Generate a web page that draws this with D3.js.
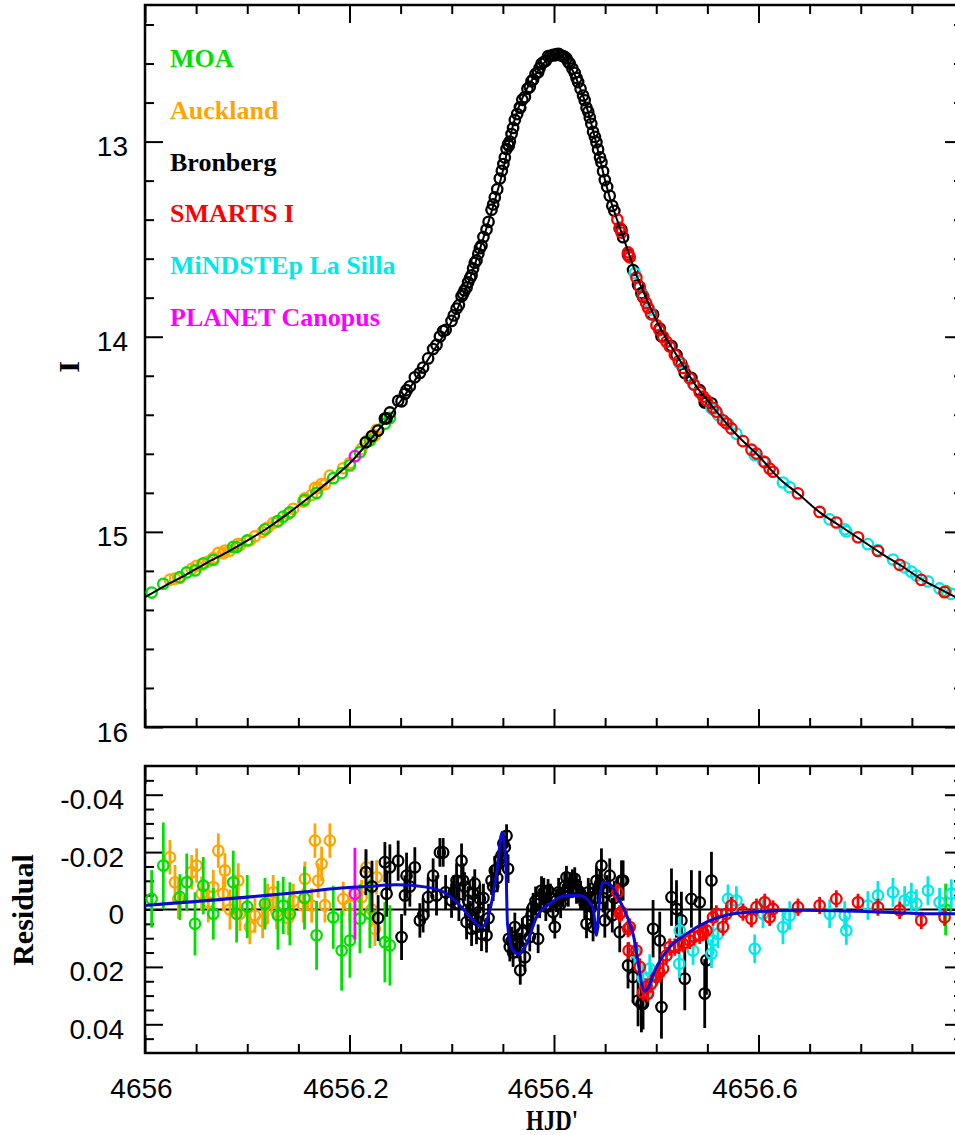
<!DOCTYPE html>
<html>
<head>
<meta charset="utf-8">
<script src="https://cdn.jsdelivr.net/npm/d3@7/dist/d3.min.js"></script>
<style>
  body { margin: 0; background: #fff; }
  .axis .domain { display: none; }
  .axis line { stroke: #000; stroke-width: 2; }
  .axis text { font-family: "Liberation Sans", Arial, sans-serif; font-size: 28px; fill: #000; }
  .label { font-family: "Liberation Serif", "Times New Roman", serif; font-weight: bold; }
</style>
</head>
<body>
<div id="chart"></div>
<script>
// Observations: [HJD', I mag, residual, residual error]
const moa = [
    [4656.0065, 15.311, -0.0037, 0.010], [4656.0179, 15.266, -0.0153, 0.015],
    [4656.0342, 15.232, -0.0043, 0.008], [4656.0408, 15.208, -0.0095, 0.010],
    [4656.0489, 15.198, 0.0050, 0.011], [4656.0570, 15.161, -0.0083, 0.010],
    [4656.0668, 15.143, 0.0015, 0.009], [4656.0863, 15.077, -0.0095, 0.011],
    [4656.0896, 15.078, 0.0015, 0.010], [4656.1000, 15.044, -0.0010, 0.011],
    [4656.1173, 14.987, -0.0020, 0.009], [4656.1300, 14.945, 0.0020, 0.012],
    [4656.1352, 14.922, -0.0014, 0.010], [4656.1417, 14.900, 0.0015, 0.011],
    [4656.1560, 14.837, -0.0040, 0.011], [4656.1678, 14.801, 0.0090, 0.012],
    [4656.1841, 14.725, 0.0027, 0.011], [4656.1923, 14.699, 0.0143, 0.014],
    [4656.2004, 14.659, 0.0108, 0.013], [4656.2102, 14.592, 0.0032, 0.012],
    [4656.2199, 14.532, 0.0015, 0.012], [4656.2346, 14.446, 0.0114, 0.014],
    [4656.2395, 14.416, 0.0125, 0.014], [4656.7830, 15.303, 0.0000, 0.009]
];

const auckland = [
    [4656.0244, 15.245, -0.0182, 0.006], [4656.0293, 15.240, -0.0095, 0.006],
    [4656.0326, 15.236, -0.0037, 0.007], [4656.0457, 15.190, -0.0130, 0.006],
    [4656.0505, 15.174, -0.0153, 0.006], [4656.0554, 15.168, -0.0055, 0.006],
    [4656.0619, 15.152, -0.0025, 0.007], [4656.0668, 15.134, -0.0078, 0.006],
    [4656.0717, 15.108, -0.0205, 0.006], [4656.0765, 15.110, -0.0055, 0.006],
    [4656.0782, 15.096, -0.0136, 0.006], [4656.0831, 15.096, 0.0000, 0.007],
    [4656.0912, 15.061, -0.0101, 0.006], [4656.0929, 15.068, 0.0015, 0.006],
    [4656.1026, 15.043, 0.0061, 0.006], [4656.1075, 15.023, 0.0021, 0.006],
    [4656.1150, 15.000, 0.0040, 0.006], [4656.1200, 14.978, -0.0020, 0.007],
    [4656.1254, 14.954, -0.0060, 0.006], [4656.1287, 14.948, 0.0009, 0.006],
    [4656.1400, 14.908, 0.0030, 0.006], [4656.1450, 14.882, -0.0030, 0.006],
    [4656.1547, 14.845, -0.0014, 0.006], [4656.1564, 14.828, -0.0107, 0.006],
    [4656.1630, 14.811, -0.0014, 0.006], [4656.1662, 14.775, -0.0240, 0.006],
    [4656.1694, 14.775, -0.0101, 0.006], [4656.1727, 14.755, -0.0159, 0.006],
    [4656.1760, 14.756, -0.0015, 0.006], [4656.1808, 14.712, -0.0240, 0.006],
    [4656.1938, 14.674, -0.0037, 0.006], [4656.2004, 14.647, -0.0015, 0.006],
    [4656.2118, 14.575, -0.0043, 0.006], [4656.2167, 14.535, -0.0147, 0.006],
    [4656.2216, 14.520, 0.0000, 0.006], [4656.2248, 14.506, 0.0067, 0.006],
    [4656.2265, 14.477, -0.0112, 0.006]
];

const bronberg = [
    [4656.2160, 14.541, -0.0130, 0.008], [4656.2220, 14.509, -0.0080, 0.009],
    [4656.2280, 14.481, 0.0030, 0.008], [4656.2346, 14.419, -0.0165, 0.007],
    [4656.2363, 14.418, -0.0055, 0.008], [4656.2395, 14.388, -0.0147, 0.008],
    [4656.2476, 14.328, -0.0170, 0.007], [4656.2509, 14.331, 0.0096, 0.008],
    [4656.2542, 14.292, -0.0049, 0.007], [4656.2558, 14.274, -0.0118, 0.008],
    [4656.2590, 14.254, -0.0080, 0.007], [4656.2639, 14.208, -0.0147, 0.007],
    [4656.2688, 14.186, 0.0038, 0.006], [4656.2720, 14.158, 0.0020, 0.006],
    [4656.2769, 14.111, -0.0043, 0.007], [4656.2818, 14.063, -0.0118, 0.006],
    [4656.2851, 14.042, -0.0049, 0.007], [4656.2884, 13.999, -0.0199, 0.005],
    [4656.2916, 13.971, -0.0199, 0.005], [4656.2940, 13.965, -0.0060, 0.006],
    [4656.2998, 13.919, -0.0031, 0.006], [4656.3020, 13.891, -0.0060, 0.006],
    [4656.3047, 13.856, -0.0101, 0.006], [4656.3070, 13.838, -0.0020, 0.006],
    [4656.3096, 13.793, -0.0170, 0.006], [4656.3111, 13.780, -0.0101, 0.006],
    [4656.3125, 13.763, -0.0080, 0.005], [4656.3145, 13.748, 0.0044, 0.006],
    [4656.3160, 13.721, -0.0031, 0.005], [4656.3180, 13.699, 0.0020, 0.005],
    [4656.3194, 13.685, 0.0067, 0.006], [4656.3209, 13.650, -0.0055, 0.006],
    [4656.3225, 13.621, -0.0090, 0.005], [4656.3242, 13.609, 0.0061, 0.006],
    [4656.3260, 13.575, 0.0010, 0.005], [4656.3275, 13.546, -0.0037, 0.005],
    [4656.3291, 13.533, 0.0085, 0.006], [4656.3310, 13.489, -0.0040, 0.005],
    [4656.3340, 13.451, 0.0090, 0.006], [4656.3360, 13.411, 0.0030, 0.005],
    [4656.3389, 13.349, -0.0101, 0.005], [4656.3405, 13.322, -0.0080, 0.005],
    [4656.3421, 13.286, -0.0136, 0.005], [4656.3445, 13.244, -0.0110, 0.005],
    [4656.3470, 13.189, -0.0176, 0.005], [4656.3490, 13.150, -0.0190, 0.005],
    [4656.3505, 13.115, -0.0230, 0.004], [4656.3519, 13.082, -0.0217, 0.004],
    [4656.3536, 13.038, -0.0257, 0.004], [4656.3551, 13.014, -0.0142, 0.005],
    [4656.3558, 13.021, 0.0102, 0.005], [4656.3568, 13.000, 0.0131, 0.005],
    [4656.3585, 12.961, 0.0110, 0.005], [4656.3600, 12.930, 0.0150, 0.005],
    [4656.3617, 12.889, 0.0061, 0.005], [4656.3640, 12.859, 0.0120, 0.005],
    [4656.3666, 12.824, 0.0131, 0.005], [4656.3670, 12.827, 0.0212, 0.005],
    [4656.3690, 12.786, 0.0080, 0.005], [4656.3715, 12.772, 0.0166, 0.005],
    [4656.3740, 12.729, 0.0040, 0.005], [4656.3763, 12.720, 0.0096, 0.005],
    [4656.3780, 12.691, 0.0020, 0.005], [4656.3796, 12.682, -0.0008, 0.005],
    [4656.3820, 12.653, -0.0030, 0.005], [4656.3845, 12.645, 0.0102, 0.005],
    [4656.3860, 12.623, -0.0020, 0.005], [4656.3878, 12.601, -0.0066, 0.005],
    [4656.3900, 12.592, -0.0060, 0.005], [4656.3920, 12.586, -0.0010, 0.005],
    [4656.3942, 12.562, -0.0066, 0.004], [4656.3965, 12.561, -0.0040, 0.005],
    [4656.3991, 12.555, 0.0009, 0.004], [4656.4008, 12.558, 0.0061, 0.004],
    [4656.4024, 12.551, -0.0031, 0.004], [4656.4045, 12.550, -0.0060, 0.005],
    [4656.4065, 12.558, -0.0020, 0.005], [4656.4089, 12.562, -0.0049, 0.004],
    [4656.4105, 12.566, -0.0080, 0.005], [4656.4122, 12.574, -0.0112, 0.004],
    [4656.4140, 12.592, -0.0060, 0.005], [4656.4154, 12.600, -0.0089, 0.004],
    [4656.4180, 12.626, -0.0090, 0.005], [4656.4203, 12.648, -0.0107, 0.004],
    [4656.4220, 12.674, -0.0070, 0.005], [4656.4236, 12.695, -0.0066, 0.004],
    [4656.4260, 12.729, -0.0050, 0.005], [4656.4284, 12.764, -0.0037, 0.004],
    [4656.4300, 12.788, -0.0020, 0.005], [4656.4318, 12.827, 0.0050, 0.005],
    [4656.4335, 12.847, -0.0060, 0.005], [4656.4350, 12.876, -0.0043, 0.005],
    [4656.4365, 12.909, -0.0010, 0.005], [4656.4382, 12.950, 0.0061, 0.005],
    [4656.4400, 12.976, -0.0040, 0.005], [4656.4415, 13.003, -0.0100, 0.005],
    [4656.4431, 13.041, -0.0072, 0.005], [4656.4450, 13.081, -0.0090, 0.005],
    [4656.4464, 13.106, -0.0153, 0.006], [4656.4480, 13.152, -0.0040, 0.005],
    [4656.4497, 13.197, 0.0038, 0.006], [4656.4520, 13.232, -0.0060, 0.006],
    [4656.4545, 13.278, -0.0118, 0.006], [4656.4570, 13.329, 0.0020, 0.006],
    [4656.4590, 13.355, -0.0040, 0.006], [4656.4643, 13.445, 0.0079, 0.007],
    [4656.4660, 13.452, -0.0101, 0.007], [4656.4676, 13.490, -0.0101, 0.007],
    [4656.4724, 13.581, 0.0195, 0.008], [4656.4773, 13.658, 0.0235, 0.009],
    [4656.4822, 13.735, 0.0317, 0.009], [4656.4855, 13.777, 0.0328, 0.010],
    [4656.4871, 13.797, 0.0328, 0.009], [4656.4969, 13.886, 0.0067, 0.010],
    [4656.5034, 13.958, 0.0108, 0.010], [4656.5051, 13.997, 0.0340, 0.011],
    [4656.5149, 14.048, -0.0043, 0.010], [4656.5198, 14.093, -0.0002, 0.010],
    [4656.5246, 14.138, 0.0038, 0.010], [4656.5279, 14.186, 0.0241, 0.011],
    [4656.5344, 14.211, -0.0037, 0.010], [4656.5425, 14.274, -0.0025, 0.011],
    [4656.5474, 14.337, 0.0293, 0.012], [4656.5491, 14.337, 0.0177, 0.012],
    [4656.5540, 14.341, -0.0101, 0.010]
];

const smarts = [
    [4656.4620, 13.399, -0.0060, 0.003], [4656.4643, 13.442, 0.0015, 0.003],
    [4656.4660, 13.466, 0.0009, 0.003], [4656.4724, 13.568, 0.0067, 0.003],
    [4656.4730, 13.584, 0.0143, 0.003], [4656.4741, 13.593, 0.0061, 0.003],
    [4656.4806, 13.697, 0.0143, 0.003], [4656.4839, 13.744, 0.0200, 0.003],
    [4656.4871, 13.793, 0.0288, 0.003], [4656.4900, 13.827, 0.0270, 0.003],
    [4656.4920, 13.852, 0.0293, 0.003], [4656.4950, 13.884, 0.0260, 0.003],
    [4656.5002, 13.941, 0.0235, 0.003], [4656.5030, 13.966, 0.0220, 0.003],
    [4656.5067, 14.000, 0.0206, 0.003], [4656.5100, 14.026, 0.0160, 0.003],
    [4656.5132, 14.050, 0.0131, 0.003], [4656.5181, 14.092, 0.0131, 0.003],
    [4656.5220, 14.125, 0.0125, 0.003], [4656.5262, 14.160, 0.0120, 0.003],
    [4656.5327, 14.213, 0.0108, 0.003], [4656.5370, 14.246, 0.0095, 0.003],
    [4656.5425, 14.285, 0.0090, 0.003], [4656.5460, 14.307, 0.0080, 0.003],
    [4656.5491, 14.326, 0.0073, 0.003], [4656.5555, 14.364, 0.0027, 0.003],
    [4656.5588, 14.384, 0.0015, 0.003], [4656.5653, 14.428, 0.0061, 0.003],
    [4656.5686, 14.444, 0.0015, 0.003], [4656.5735, 14.470, -0.0014, 0.003],
    [4656.5848, 14.535, 0.0009, 0.003], [4656.5931, 14.579, 0.0032, 0.003],
    [4656.5980, 14.599, -0.0008, 0.003], [4656.6061, 14.643, -0.0025, 0.003],
    [4656.6109, 14.676, 0.0027, 0.003], [4656.6142, 14.692, -0.0002, 0.003],
    [4656.6386, 14.803, -0.0008, 0.003], [4656.6598, 14.898, -0.0014, 0.003],
    [4656.6761, 14.952, -0.0037, 0.003], [4656.6973, 15.028, -0.0025, 0.003],
    [4656.7168, 15.098, -0.0008, 0.003], [4656.7380, 15.169, 0.0003, 0.003],
    [4656.7592, 15.246, 0.0038, 0.003], [4656.7820, 15.309, 0.0027, 0.003]
];

const mindstep = [
    [4656.4790, 13.675, 0.0150, 0.005], [4656.4870, 13.787, 0.0240, 0.005],
    [4656.4936, 13.862, 0.0206, 0.005], [4656.4953, 13.886, 0.0253, 0.006],
    [4656.5225, 14.135, 0.0189, 0.005], [4656.5230, 14.128, 0.0073, 0.005],
    [4656.5360, 14.242, 0.0143, 0.005], [4656.5540, 14.366, 0.0154, 0.005],
    [4656.5555, 14.372, 0.0108, 0.005], [4656.5604, 14.401, 0.0085, 0.005],
    [4656.5702, 14.447, -0.0037, 0.005], [4656.5784, 14.497, -0.0031, 0.005],
    [4656.5963, 14.606, 0.0137, 0.005], [4656.6044, 14.637, 0.0015, 0.005],
    [4656.6239, 14.747, 0.0061, 0.006], [4656.6305, 14.771, 0.0021, 0.005],
    [4656.6696, 14.936, 0.0015, 0.005], [4656.6843, 14.987, 0.0021, 0.005],
    [4656.6859, 14.998, 0.0073, 0.005], [4656.7070, 15.063, -0.0014, 0.005],
    [4656.7168, 15.094, -0.0049, 0.005], [4656.7315, 15.142, -0.0060, 0.005],
    [4656.7429, 15.182, -0.0031, 0.005], [4656.7495, 15.204, -0.0043, 0.005],
    [4656.7544, 15.224, -0.0020, 0.005], [4656.7657, 15.254, -0.0066, 0.005],
    [4656.7771, 15.290, -0.0025, 0.005], [4656.7886, 15.318, -0.0055, 0.005]
];

const canopus = [
    [4656.2053, 14.612, -0.0055, 0.016]
];

// Model light curve [HJD', I mag]
const lcModel = [
    [4656.00, 15.335], [4656.02, 15.275], [4656.04, 15.220], [4656.06, 15.160],
    [4656.08, 15.105], [4656.10, 15.045], [4656.12, 14.980], [4656.14, 14.905],
    [4656.16, 14.825], [4656.18, 14.740], [4656.20, 14.650], [4656.22, 14.530],
    [4656.24, 14.400], [4656.26, 14.255], [4656.28, 14.090], [4656.30, 13.920],
    [4656.31, 13.805], [4656.32, 13.670], [4656.33, 13.510], [4656.34, 13.340],
    [4656.35, 13.150], [4656.355, 13.030], [4656.36, 12.915], [4656.365, 12.830],
    [4656.37, 12.765], [4656.375, 12.715], [4656.38, 12.672], [4656.385, 12.632],
    [4656.39, 12.598], [4656.395, 12.570], [4656.40, 12.552], [4656.405, 12.556],
    [4656.41, 12.570], [4656.415, 12.605], [4656.42, 12.655], [4656.425, 12.720],
    [4656.43, 12.790], [4656.435, 12.880], [4656.44, 12.980], [4656.445, 13.090],
    [4656.45, 13.200], [4656.455, 13.295], [4656.46, 13.375], [4656.47, 13.525],
    [4656.48, 13.675], [4656.49, 13.800], [4656.50, 13.915], [4656.51, 14.010],
    [4656.52, 14.095], [4656.53, 14.180], [4656.54, 14.260], [4656.55, 14.325],
    [4656.56, 14.390], [4656.58, 14.510], [4656.60, 14.610], [4656.62, 14.725],
    [4656.64, 14.810], [4656.66, 14.900], [4656.68, 14.970], [4656.70, 15.040],
    [4656.72, 15.110], [4656.74, 15.175], [4656.76, 15.245], [4656.78, 15.300],
    [4656.80, 15.355]
];

// Planetary model minus single-lens model [HJD', residual]
const resModel = [
    [4656.0000, -0.0014], [4656.1515, -0.0060], [4656.1841, -0.0072], [4656.2167, -0.0080],
    [4656.2460, -0.0086], [4656.2754, -0.0078], [4656.2949, -0.0055], [4656.3111, -0.0002],
    [4656.3209, 0.0038], [4656.3291, 0.0062], [4656.3372, 0.0003], [4656.3438, -0.0124],
    [4656.3493, -0.0269], [4656.3530, -0.0150], [4656.3545, 0.0050], [4656.3600, 0.0143],
    [4656.3649, 0.0154], [4656.3731, 0.0120], [4656.3829, 0.0027], [4656.3959, -0.0020],
    [4656.4122, -0.0049], [4656.4252, -0.0049], [4656.4382, -0.0008], [4656.4415, 0.0090],
    [4656.4448, -0.0043], [4656.4480, -0.0095], [4656.4545, -0.0089], [4656.4643, -0.0031],
    [4656.4773, 0.0085], [4656.4888, 0.0285], [4656.5002, 0.0200], [4656.5132, 0.0131],
    [4656.5295, 0.0085], [4656.5491, 0.0044], [4656.5751, 0.0015], [4656.6012, 0.0007],
    [4656.6403, 0.0003], [4656.7055, 0.0007], [4656.7705, 0.0015], [4656.8000, 0.0015]
];

const sites = ["MOA", "Auckland", "Bronberg", "SMARTS I", "MiNDSTEp La Silla", "PLANET Canopus"];
const siteColors = ["#00e000", "#ffa500", "#000000", "#ff0000", "#00e8e8", "#ff00ff"];
const siteData = [moa, auckland, bronberg, smarts, mindstep, canopus];
const drawOrder = [1, 0, 2, 5, 4, 3];

const magMajor = [13, 14, 15, 16];
const magMinor = [12.4, 12.6, 12.8, 13.2, 13.4, 13.6, 13.8, 14.2, 14.4, 14.6, 14.8,
                  15.2, 15.4, 15.6, 15.8];
const resMajor = [-0.04, -0.02, 0, 0.02, 0.04];
const resMinor = [-0.045, -0.035, -0.03, -0.025, -0.015, -0.01, -0.005,
                  0.005, 0.01, 0.015, 0.025, 0.03, 0.035, 0.045];
const timeMajor = [4656, 4656.2, 4656.4, 4656.6, 4656.8];
const timeMinor = [4656.05, 4656.1, 4656.15, 4656.25, 4656.3, 4656.35,
                   4656.45, 4656.5, 4656.55, 4656.65, 4656.7, 4656.75];
const timeLabels = ["4656", "4656.2", "4656.4", "4656.6", ""];

// Layout
const svg = d3.select("#chart").append("svg")
    .attr("width", 955)
    .attr("height", 1135);

const x = d3.scaleLinear().domain([4656, 4656.8]).range([145, 963]);
const yMag = d3.scaleLinear().domain([12.3, 16]).range([5, 727]);
const yRes = d3.scaleLinear().domain([-0.05, 0.05]).range([766, 1053]);

const defs = svg.append("defs");
defs.append("clipPath").attr("id", "clipTop")
    .append("rect").attr("x", 145).attr("y", 5).attr("width", 818).attr("height", 722);
defs.append("clipPath").attr("id", "clipBot")
    .append("rect").attr("x", 145).attr("y", 766).attr("width", 818).attr("height", 287);

// Tick marks on all four sides, pointing inward
function drawAxes(yScale, yMaj, yMin, yFmt, padding, top, bottom, withXLabels) {
    const left = svg.append("g").attr("class", "axis").attr("transform", "translate(145,0)");
    left.call(d3.axisLeft(yScale).tickValues(yMaj).tickSizeInner(-18).tickSizeOuter(0)
        .tickPadding(padding).tickFormat(yFmt));
    left.selectAll("text").attr("dy", "0.5em");
    left.append("g").call(d3.axisLeft(yScale).tickValues(yMin).tickSizeInner(-9).tickSizeOuter(0).tickFormat(""));

    const right = svg.append("g").attr("class", "axis").attr("transform", "translate(963,0)");
    right.call(d3.axisRight(yScale).tickValues(yMaj).tickSizeInner(-18).tickSizeOuter(0).tickFormat(""));
    right.append("g").call(d3.axisRight(yScale).tickValues(yMin).tickSizeInner(-9).tickSizeOuter(0).tickFormat(""));

    const topAx = svg.append("g").attr("class", "axis").attr("transform", `translate(0,${top})`);
    topAx.call(d3.axisTop(x).tickValues(timeMajor).tickSizeInner(-18).tickSizeOuter(0).tickFormat(""));
    topAx.append("g").call(d3.axisTop(x).tickValues(timeMinor).tickSizeInner(-9).tickSizeOuter(0).tickFormat(""));

    const botAx = svg.append("g").attr("class", "axis").attr("transform", `translate(0,${bottom})`);
    botAx.call(d3.axisBottom(x).tickValues(timeMajor).tickSizeInner(-18).tickSizeOuter(0)
        .tickPadding(25)
        .tickFormat((d, i) => withXLabels ? timeLabels[i] : ""));
    botAx.selectAll("text").attr("dx", -4);
    botAx.append("g").call(d3.axisBottom(x).tickValues(timeMinor).tickSizeInner(-9).tickSizeOuter(0).tickFormat(""));

    svg.append("rect")
        .attr("x", 145).attr("y", top)
        .attr("width", 818).attr("height", bottom - top)
        .attr("fill", "none").attr("stroke", "#000").attr("stroke-width", 2.5);
}

drawAxes(yMag, magMajor, magMinor, d => d, 17, 5, 727, false);
drawAxes(yRes, resMajor, resMinor, d => d === 0 ? "0" : d.toFixed(2), 21, 766, 1053, true);

// Top panel: light curve
const topG = svg.append("g").attr("clip-path", "url(#clipTop)");
drawOrder.forEach(i => {
    topG.selectAll(null)
        .data(siteData[i])
        .enter().append("circle")
        .attr("cx", d => x(d[0]))
        .attr("cy", d => yMag(d[1]))
        .attr("r", 5.2)
        .attr("fill", "none")
        .attr("stroke", siteColors[i])
        .attr("stroke-width", 2.3);
});
topG.append("path")
    .datum(lcModel)
    .attr("fill", "none")
    .attr("stroke", "#000")
    .attr("stroke-width", 2)
    .attr("d", d3.line().x(d => x(d[0])).y(d => yMag(d[1])).curve(d3.curveMonotoneX));

// Bottom panel: residuals
const botG = svg.append("g").attr("clip-path", "url(#clipBot)");
botG.append("line")
    .attr("x1", 145).attr("x2", 963)
    .attr("y1", yRes(0)).attr("y2", yRes(0))
    .attr("stroke", "#000").attr("stroke-width", 2);

drawOrder.forEach(i => {
    const g = botG.append("g");
    g.selectAll(null)
        .data(siteData[i])
        .enter().append("line")
        .attr("x1", d => x(d[0])).attr("x2", d => x(d[0]))
        .attr("y1", d => yRes(d[2] - d[3])).attr("y2", d => yRes(d[2] + d[3]))
        .attr("stroke", siteColors[i])
        .attr("stroke-width", 2.8);
    g.selectAll(null)
        .data(siteData[i])
        .enter().append("circle")
        .attr("cx", d => x(d[0]))
        .attr("cy", d => yRes(d[2]))
        .attr("r", 5.2)
        .attr("fill", "none")
        .attr("stroke", siteColors[i])
        .attr("stroke-width", 2.3);
});

botG.append("path")
    .datum(resModel)
    .attr("fill", "none")
    .attr("stroke", "#0a0ad2")
    .attr("stroke-width", 3)
    .attr("d", d3.line().x(d => x(d[0])).y(d => yRes(d[1])).curve(d3.curveMonotoneX));

// Legend
svg.selectAll(".legend")
    .data(sites)
    .enter().append("text")
    .attr("class", "label legend")
    .attr("x", 170)
    .attr("y", (d, i) => 67 + i * 51.8)
    .attr("fill", (d, i) => siteColors[i])
    .style("font-size", "26px")
    .text(d => d);

// Axis titles
svg.append("text")
    .attr("class", "label")
    .attr("transform", "translate(79,367) rotate(-90)")
    .attr("text-anchor", "middle")
    .style("font-size", "30px")
    .text("I");

svg.append("text")
    .attr("class", "label")
    .attr("transform", "translate(33,910) rotate(-90)")
    .attr("text-anchor", "middle")
    .style("font-size", "30px")
    .text("Residual");

svg.append("text")
    .attr("class", "label")
    .attr("x", 552)
    .attr("y", 1130)
    .attr("text-anchor", "middle")
    .attr("textLength", 52)
    .attr("lengthAdjust", "spacingAndGlyphs")
    .style("font-size", "30px")
    .text("HJD'");
</script>
</body>
</html>
